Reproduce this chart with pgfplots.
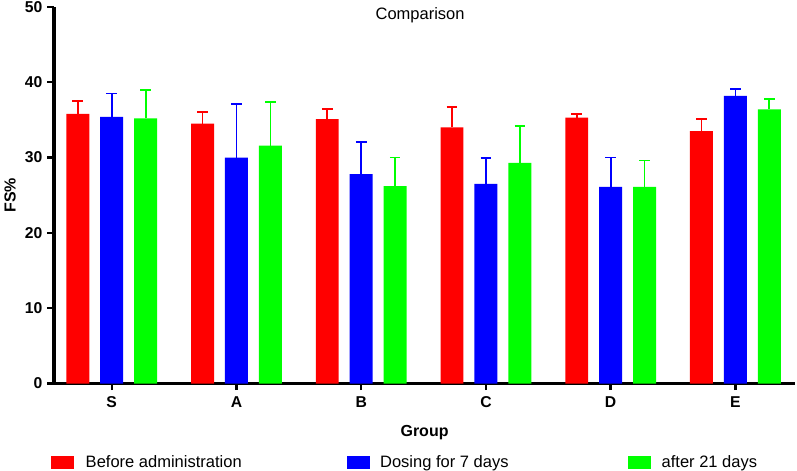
\documentclass[border=0pt]{standalone}
\usepackage{pgfplots}
\pgfplotsset{compat=1.18}
\usepackage{fontspec}
\setmainfont{Liberation Sans}
\definecolor{cred}{RGB}{255,0,0}
\definecolor{cblue}{RGB}{0,0,255}
\definecolor{cgreen}{RGB}{0,255,0}
\begin{document}
\begin{tikzpicture}
\begin{axis}[
  scale only axis,
  width=557pt, height=283pt,
  xmin=-0.464, xmax=5.48,
  ymin=0, ymax=50,
  ytick={0,10,20,30,40,50},
  xtick={0,1,2,3,4,5},
  xticklabels={S,A,B,C,D,E},
  axis x line*=bottom, axis y line*=left,
  axis line style={line width=2.6pt, black},
  tick style={line width=1.8pt, black},
  major tick length=5pt,
  tick align=outside,
  /pgf/number format/assume math mode=true,
  ticklabel style={font=\bfseries\fontsize{11.8}{13}\selectfont},
  yticklabel style={inner sep=1pt, xshift=-2.5pt},
  xticklabel style={yshift=-1.5pt},
  xlabel={Group},
  xlabel style={font=\bfseries\fontsize{12}{14}\selectfont, at={(axis description cs:0.5,-0.129)}, anchor=center},
  ylabel={FS\%},
  ylabel style={font=\bfseries\fontsize{12}{14}\selectfont, at={(axis description cs:-0.059,0.5)}, anchor=center},
  clip=false,
  legend columns=3,
  legend style={draw=none, inner sep=0pt, font=\fontsize{12.4}{15}\selectfont,
    nodes={inner ysep=1pt},
    at={(axis description cs:-0.004,-0.209)}, anchor=west,
    /tikz/column 1/.style={column sep=7pt},
    /tikz/column 2/.style={column sep=77pt},
    /tikz/column 3/.style={column sep=6pt},
    /tikz/column 4/.style={column sep=88pt},
    /tikz/column 5/.style={column sep=6pt}},
  legend image code/.code={\fill[#1] (0pt,-5pt) rectangle (17pt,5pt);},
  error bars/y dir=plus,
  error bars/y explicit,
]
\addplot[ybar, bar width=0.184, bar shift=0, fill=cred, draw=none,
  error bars/error bar style={cred, line width=1.3pt},
  error bars/error mark options={cred, line width=1.3pt, mark size=4pt, rotate=90}]
  coordinates {(-0.272,35.8) +- (0,1.7) (0.728,34.5) +- (0,1.5) (1.728,35.1) +- (0,1.3) (2.728,34.0) +- (0,2.7) (3.728,35.3) +- (0,0.5) (4.728,33.5) +- (0,1.6)};
\addlegendentry{Before administration}
\addplot[ybar, bar width=0.184, bar shift=0, fill=cblue, draw=none,
  error bars/error bar style={cblue, line width=1.3pt},
  error bars/error mark options={cblue, line width=1.3pt, mark size=4pt, rotate=90}]
  coordinates {(0,35.4) +- (0,3.1) (1,30.0) +- (0,7.1) (2,27.8) +- (0,4.3) (3,26.5) +- (0,3.4) (4,26.1) +- (0,3.9) (5,38.2) +- (0,0.9)};
\addlegendentry{Dosing for 7 days}
\addplot[ybar, bar width=0.184, bar shift=0, fill=cgreen, draw=none,
  error bars/error bar style={cgreen, line width=1.3pt},
  error bars/error mark options={cgreen, line width=1.3pt, mark size=4pt, rotate=90}]
  coordinates {(0.272,35.2) +- (0,3.8) (1.272,31.6) +- (0,5.8) (2.272,26.2) +- (0,3.8) (3.272,29.3) +- (0,4.9) (4.272,26.1) +- (0,3.5) (5.272,36.4) +- (0,1.4)};
\addlegendentry{after 21 days}
\node[font=\fontsize{12.4}{15}\selectfont] at (axis description cs:0.494,0.979) {Comparison};
\end{axis}
\end{tikzpicture}
\end{document}
